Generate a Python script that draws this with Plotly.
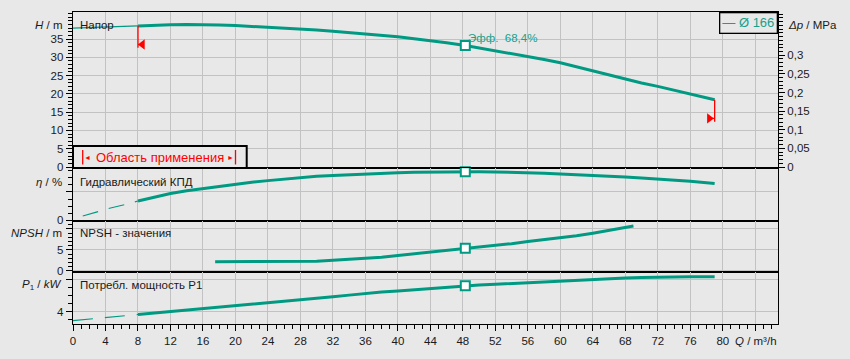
import plotly.graph_objects as go

# ---------------- data ----------------
# Head H [m]
q_head_thin = [0, 2, 4, 6, 8]
head_thin = [38.0, 38.1, 38.25, 38.4, 38.6]
q_head = [8, 10, 12, 14, 16, 18, 20, 22, 24, 26, 28, 30, 32, 34, 36, 38, 40, 42, 44, 46, 48.3,
          50, 52, 54, 56, 58, 60, 62, 64, 66, 68, 70, 72, 74, 76, 78, 79]
head = [38.6, 38.85, 38.9, 38.95, 38.95, 38.85, 38.7, 38.5, 38.3, 38.05, 37.8, 37.5, 37.15, 36.8,
        36.45, 36.05, 35.6, 35.1, 34.6, 34.0, 33.25, 32.6, 31.85, 31.05, 30.15, 29.4, 28.5, 27.4,
        26.25, 25.1, 23.95, 23.0, 22.05, 20.95, 19.85, 18.85, 18.4]

# Hydraulic efficiency eta [%]
q_eff_thin = [1.2, 3.2, 4.5, 6.7, 8]
eff_thin = [6.0, 13.0, 17.0, 23.0, 27.2]
q_eff = [8, 10, 12, 14, 16, 18, 20, 22, 24, 26, 28, 30, 32, 34, 36, 38, 40, 42, 44, 46, 48.3,
         50, 52, 54, 56, 58, 60, 62, 64, 66, 68, 70, 72, 74, 76, 78, 79]
eff = [27.2, 33.0, 37.8, 41.5, 44.6, 48.0, 51.0, 53.6, 55.9, 58.0, 60.2, 61.9, 63.2, 64.4, 65.4,
       66.3, 67.1, 67.6, 68.0, 68.3, 68.4, 68.3, 68.1, 67.7, 67.1, 66.3, 65.4, 64.5, 63.4, 62.2,
       61.0, 59.6, 58.2, 56.7, 55.0, 52.9, 51.8]

# NPSH [m]
q_npsh = [17.5, 20, 24, 28, 30, 32, 34, 36, 38, 40, 42, 44, 46, 48.3, 50, 52, 54, 56, 58, 60,
          62, 64, 66, 68, 69]
npsh = [2.2, 2.2, 2.2, 2.2, 2.3, 2.55, 2.75, 2.95, 3.3, 3.7, 4.1, 4.5, 4.95, 5.4, 5.7, 6.0, 6.5,
        7.0, 7.45, 7.9, 8.4, 9.0, 9.7, 10.4, 10.7]

# Power input P1 [kW]
q_pow_thin = [0, 2, 4, 6, 8]
pow_thin = [2.88, 3.08, 3.3, 3.53, 3.65]
q_pow = [8, 10, 12, 14, 16, 18, 20, 22, 24, 26, 28, 30, 32, 34, 36, 38, 40, 42, 44, 46, 48.3,
         50, 52, 54, 56, 58, 60, 62, 64, 66, 68, 70, 72, 74, 76, 78, 79]
power = [3.65, 3.83, 4.0, 4.17, 4.33, 4.53, 4.73, 4.9, 5.07, 5.27, 5.45, 5.65, 5.86, 6.07, 6.28,
         6.45, 6.6, 6.75, 6.9, 7.08, 7.25, 7.33, 7.42, 7.52, 7.6, 7.73, 7.88, 7.98, 8.05, 8.12,
         8.2, 8.26, 8.32, 8.35, 8.37, 8.38, 8.38]

# Best efficiency point
bep_q = [48.3]
bep_head = [33.25]
bep_eff = [68.4]
bep_npsh = [5.4]
bep_pow = [7.25]

# Application range limits
range_q = [8, 79]
range_line_top = [38.6, 18.4]
range_line_bottom = [32.6, 12.4]
range_arrow_q = [8.55, 78.35]
range_arrow_h = [33.5, 13.3]

# Tick labels
x_ticks = list(range(0, 85, 4))
x_ticktext = [str(v) for v in range(0, 81, 4)] + [" "]
h_ticks = [0, 5, 10, 15, 20, 25, 30, 35]
dp_ticks = [0, 0.05, 0.1, 0.15, 0.2, 0.25, 0.3]
dp_ticktext = ["0", "0,05", "0,1", "0,15", "0,2", "0,25", "0,3"]
eff_ticks = [0, 40]
eff_ticktext = ["0", " "]
npsh_ticks = [0, 5, 10]
npsh_ticktext = ["0", "5", " "]
pow_ticks = [4, 8]
pow_ticktext = ["4", " "]

# ---------------- styling ----------------
BG = "#e8e8e8"
TEAL = "#009a82"
GRID = "#c2c2c2"
RED = "#ff0000"
TXT = "#1a1a1a"
FONT = "Liberation Sans, Arial, sans-serif"

W, H = 850, 359
ML, MR, MT, MB = 73, 72, 12, 35
PH = H - MT - MB  # 312


def py(ypx):
    """paper y from pixel y"""
    return (H - MB - ypx) / PH


def px(xpx):
    return (xpx - ML) / (W - ML - MR)


dom_h = [py(168), 1.0]
dom_e = [py(221), py(168)]
dom_n = [py(272), py(221)]
dom_p = [0.0, py(272)]

XR = [0, 86.8]
H_RANGE = [-0.27, 42.4]
DP_FACTOR = 0.00981  # MPa per m of water

fig = go.Figure()


def line(x, y, xa, ya, width, dash="solid", color=TEAL):
    fig.add_trace(go.Scatter(x=x, y=y, xaxis=xa, yaxis=ya, mode="lines",
                             line=dict(color=color, width=width, dash=dash),
                             hoverinfo="skip", showlegend=False, cliponaxis=False))


def bep(x, y, xa, ya):
    fig.add_trace(go.Scatter(x=x, y=y, xaxis=xa, yaxis=ya, mode="markers",
                             marker=dict(symbol="square", size=9, color="white",
                                         line=dict(color=TEAL, width=2)),
                             hoverinfo="skip", showlegend=False, cliponaxis=False))


# head
line(q_head_thin, head_thin, "x", "y", 1.2)
line(q_head, head, "x", "y", 3)
bep(bep_q, bep_head, "x", "y")
# application range markers
for i in range(2):
    line([range_q[i], range_q[i]], [range_line_top[i], range_line_bottom[i]], "x", "y", 1.3,
         color=RED)
    line([range_q[i], range_arrow_q[i]], [range_arrow_h[i], range_arrow_h[i]], "x", "y", 1.3,
         color=RED)
fig.add_trace(go.Scatter(x=range_arrow_q, y=range_arrow_h, xaxis="x", yaxis="y", mode="markers",
                         marker=dict(symbol=["triangle-left", "triangle-right"], size=9, color=RED),
                         hoverinfo="skip", showlegend=False))
# dummy trace for right axis
fig.add_trace(go.Scatter(x=[None], y=[None], xaxis="x", yaxis="y5", showlegend=False,
                         hoverinfo="skip"))

# efficiency
line(q_eff_thin, eff_thin, "x2", "y2", 1.2, dash="16px,11px")
line(q_eff, eff, "x2", "y2", 3)
bep(bep_q, bep_eff, "x2", "y2")

# npsh
line(q_npsh, npsh, "x3", "y3", 3)
bep(bep_q, bep_npsh, "x3", "y3")

# power
line(q_pow_thin, pow_thin, "x4", "y4", 1.2, dash="20px,12px")
line(q_pow, power, "x4", "y4", 3)
bep(bep_q, bep_pow, "x4", "y4")

tickfont = dict(family=FONT, size=11.5, color=TXT)

xcommon = dict(range=XR, showgrid=True, gridcolor=GRID, gridwidth=1, tickmode="array",
               tickvals=x_ticks, zeroline=False, showline=True, mirror=True,
               linecolor="black", linewidth=1.3, fixedrange=True)
layout = dict(
    width=W, height=H, paper_bgcolor=BG, plot_bgcolor=BG,
    margin=dict(l=ML, r=MR, t=MT, b=MB), showlegend=False,
    font=dict(family=FONT, size=11.5, color=TXT),
    xaxis=dict(anchor="y", ticks="", showticklabels=False, **xcommon),
    xaxis2=dict(anchor="y2", ticks="", showticklabels=False, **xcommon),
    xaxis3=dict(anchor="y3", ticks="", showticklabels=False, **xcommon),
    xaxis4=dict(anchor="y4", ticks="outside", ticklen=6, tickwidth=1, tickcolor="black",
                ticktext=x_ticktext, showticklabels=True, tickfont=tickfont,
                minor=dict(ticks="outside", ticklen=4, tickmode="linear", tick0=0, dtick=1,
                           tickcolor="black", showgrid=False), **xcommon),
)

ycommon = dict(showgrid=True, gridcolor=GRID, gridwidth=1, zeroline=False, showline=True,
               mirror=True, linecolor="black", linewidth=1.3, ticks="outside", ticklen=6,
               tickcolor="black", tickmode="array", tickfont=tickfont, fixedrange=True)


def minor(d):
    return dict(ticks="outside", ticklen=4, tickmode="linear", tick0=0, dtick=d,
                tickcolor="black", showgrid=False)


layout["yaxis"] = dict(anchor="x", domain=dom_h, range=H_RANGE, tickvals=h_ticks,
                       ticktext=[str(v) for v in h_ticks], minor=minor(1), **ycommon)
layout["yaxis2"] = dict(anchor="x2", domain=dom_e, range=[-1.0, 73.7], tickvals=eff_ticks,
                        ticktext=eff_ticktext, minor=minor(10), **ycommon)
layout["yaxis3"] = dict(anchor="x3", domain=dom_n, range=[-0.24, 11.9], tickvals=npsh_ticks,
                        ticktext=npsh_ticktext, minor=minor(1), **ycommon)
layout["yaxis4"] = dict(anchor="x4", domain=dom_p, range=[2.46, 8.96], tickvals=pow_ticks,
                        ticktext=pow_ticktext, minor=minor(1), **ycommon)
layout["yaxis5"] = dict(anchor="x", overlaying="y", side="right", domain=dom_h,
                        range=[H_RANGE[0] * DP_FACTOR, H_RANGE[1] * DP_FACTOR],
                        tickvals=dp_ticks, ticktext=dp_ticktext, showgrid=False, zeroline=False,
                        showline=False, ticks="outside", ticklen=6, tickcolor="black",
                        tickmode="array", tickfont=tickfont, minor=minor(0.01), fixedrange=True)

fig.update_layout(**layout)

ann = []


def a(text, x, y, xanchor, xshift=0, color=TXT, size=11.5, **kw):
    d = dict(text=text, x=x, y=y, xref="paper", yref="paper", xanchor=xanchor, yanchor="middle",
             xshift=xshift, showarrow=False, font=dict(family=FONT, size=size, color=color))
    d.update(kw)
    ann.append(d)


# axis titles
a("<i>H</i> / m", 0, py(25), "right", xshift=-9)
a("<i>η</i> / %", 0, py(181.7), "right", xshift=-9)
a("<i>NPSH</i> / m", 0, py(232.7), "right", xshift=-9)
a("<i>P</i><sub>1</sub> / <i>kW</i>", 0, py(285), "right", xshift=-9)
a("<i>Δp</i> / MPa", 1, py(25), "left", xshift=8)
a("<i>Q</i> / m³/h", 1, py(341), "right", xshift=1)
# panel titles
a("Напор", 0, py(25), "left", xshift=5)
a("Гидравлический КПД", 0, py(181.7), "left", xshift=5)
a("NPSH - значения", 0, py(232.7), "left", xshift=5)
a("Потребл. мощность P1", 0, py(285), "left", xshift=5)
# efficiency label at BEP
ann.append(dict(text="Эфф.\u00a0\u00a068,4%", x=bep_q[0], y=bep_head[0], xref="x", yref="y",
                xanchor="left", yanchor="middle", xshift=1, yshift=7, showarrow=False,
                font=dict(family=FONT, size=11.5, color="#1aa08a")))
# legend box
ann.append(dict(text="— Ø 166", x=1, y=1, xref="paper", yref="paper", xanchor="right",
                yanchor="top", showarrow=False, bgcolor=BG, bordercolor="black", borderwidth=1.3,
                borderpad=2, font=dict(family=FONT, size=13, color="#1aa08a")))
# application range box texts
a("Область применения", px(160), py(157.3), "center", color=RED, size=13)
a("◄", px(87.5), py(157.3), "center", color=RED, size=7)
a("►", px(230.5), py(157.3), "center", color=RED, size=7)

fig.update_layout(annotations=ann)

shapes = [
    dict(type="rect", xref="paper", yref="paper", x0=0, x1=px(246.7), y0=py(168), y1=py(146),
         line=dict(color="black", width=2), fillcolor=BG, layer="above"),
    dict(type="line", xref="paper", yref="paper", x0=px(82.7), x1=px(82.7), y0=py(150),
         y1=py(164.5), line=dict(color=RED, width=1.3)),
    dict(type="line", xref="paper", yref="paper", x0=px(235.5), x1=px(235.5), y0=py(150),
         y1=py(164.5), line=dict(color=RED, width=1.3)),
]
fig.update_layout(shapes=shapes)

fig.write_html(
    "out.html",
    config={"displayModeBar": False, "staticPlot": True},
    post_script="document.body.style.margin='0';document.body.style.background='" + BG + "';",
)
